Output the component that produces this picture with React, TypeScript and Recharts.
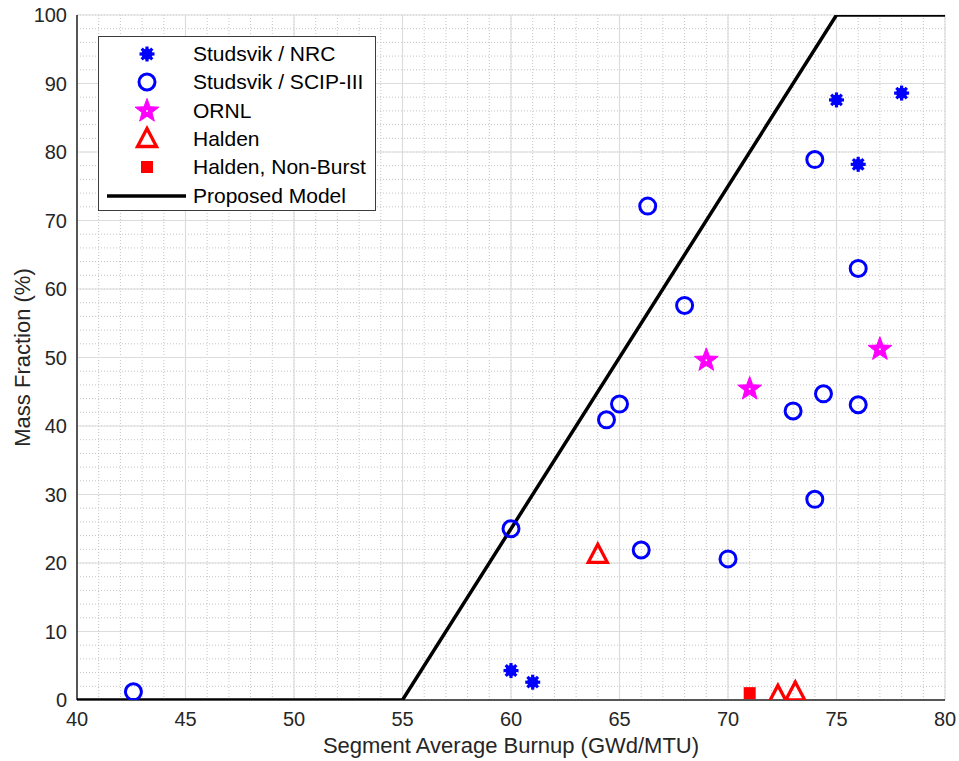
import React from 'react';
import {
  ComposedChart, Scatter, XAxis, YAxis, CartesianGrid,
} from 'recharts';

// data (burnup GWd/MTU, mass fraction %)
const studsvikNrc = [
  { x: 75, y: 87.6 }, { x: 78, y: 88.6 }, { x: 76, y: 78.2 },
  { x: 60, y: 4.3 }, { x: 61, y: 2.6 },
];
const studsvikScip = [
  { x: 42.6, y: 1.2 }, { x: 66.3, y: 72.1 }, { x: 68, y: 57.6 }, { x: 74, y: 78.9 },
  { x: 76, y: 63 }, { x: 65, y: 43.2 }, { x: 64.4, y: 40.9 }, { x: 60, y: 25 },
  { x: 66, y: 21.9 }, { x: 70, y: 20.6 }, { x: 73, y: 42.2 }, { x: 74.4, y: 44.7 },
  { x: 76, y: 43.1 }, { x: 74, y: 29.3 },
];
const ornl = [{ x: 69, y: 49.6 }, { x: 71, y: 45.4 }, { x: 77, y: 51.2 }];
const halden = [{ x: 64, y: 21.2 }, { x: 72.3, y: 0.6 }, { x: 73.1, y: 1.1 }];
const haldenNonBurst = [{ x: 71, y: 1.0 }];
const proposedModel = [{ x: 40, y: 0 }, { x: 55, y: 0 }, { x: 75, y: 100 }, { x: 80, y: 100 }];

const xTicks = [40, 45, 50, 55, 60, 65, 70, 75, 80];
const yTicks = [0, 10, 20, 30, 40, 50, 60, 70, 80, 90, 100];
const X_DOMAIN = [40, 80];
const Y_DOMAIN = [0, 100];
const xMinor = Array.from({ length: 41 }, (_, i) => 40 + i);
const yMinor = Array.from({ length: 51 }, (_, i) => i * 2);

const FONT = '"Liberation Sans", Arial, sans-serif';
const BLUE = '#0000ff';
const MAGENTA = '#ff00ff';
const RED = '#ff0000';

const Asterisk = ({ cx, cy }: any) => (
  <g stroke={BLUE} strokeWidth={3.2} fill={BLUE}>
    {[0, 45, 90, 135].map((a) => {
      const r = (a * Math.PI) / 180;
      const dx = Math.cos(r) * 7.5, dy = Math.sin(r) * 7.5;
      return <line key={a} x1={cx - dx} y1={cy - dy} x2={cx + dx} y2={cy + dy} />;
    })}
    <circle cx={cx} cy={cy} r={5.5} stroke="none" />
  </g>
);

const OpenCircle = ({ cx, cy }: any) => (
  <circle cx={cx} cy={cy} r={8} stroke={BLUE} strokeWidth={3} fill="none" />
);

const Star = ({ cx, cy }: any) => {
  const pts: string[] = [];
  for (let i = 0; i < 10; i++) {
    const rad = i % 2 === 0 ? 12.5 : 5.2;
    const a = -Math.PI / 2 + (i * Math.PI) / 5;
    pts.push(`${cx + rad * Math.cos(a)},${cy + rad * Math.sin(a)}`);
  }
  return (
    <g>
      <polygon points={pts.join(' ')} fill={MAGENTA} stroke={MAGENTA} strokeWidth={1} />
      <circle cx={cx} cy={cy} r={1} fill="#fff" />
    </g>
  );
};

const Triangle = ({ cx, cy }: any) => (
  <polygon
    points={`${cx},${cy - 10.5} ${cx - 9.5},${cy + 7.5} ${cx + 9.5},${cy + 7.5}`}
    fill="none" stroke={RED} strokeWidth={3.3} strokeLinejoin="miter"
  />
);

const Square = ({ cx, cy }: any) => (
  <rect x={cx - 6} y={cy - 6} width={12} height={12} fill={RED} />
);

const legendItems = [
  { name: 'Studsvik / NRC', Shape: Asterisk },
  { name: 'Studsvik / SCIP-III', Shape: OpenCircle },
  { name: 'ORNL', Shape: Star },
  { name: 'Halden', Shape: Triangle },
  { name: 'Halden, Non-Burst', Shape: Square },
  { name: 'Proposed Model', Shape: null },
];

const LegendBox = () => (
  <div style={{
    position: 'absolute', left: 98, top: 36,
    width: 276, height: 173, border: '1.5px solid #3c3c3c', background: '#fff',
    fontFamily: FONT, fontSize: 21, color: '#000', boxSizing: 'content-box',
  }}>
    {legendItems.map((it, i) => (
      <div key={it.name} style={{ height: 28.3, display: 'flex', alignItems: 'center', marginTop: i === 0 ? 3 : 0 }}>
        <svg width={94} height={28} style={{ flex: 'none' }}>
          {it.Shape ? <it.Shape cx={48} cy={14} /> : <line x1={8} y1={14} x2={87} y2={14} stroke="#000" strokeWidth={3.5} />}
        </svg>
        <span style={{ whiteSpace: 'nowrap' }}>{it.name}</span>
      </div>
    ))}
  </div>
);

// minor grid positions from the plot offset and the axis domains
const minorX = ({ offset }: any) =>
  xMinor.map((v) => offset.left + ((v - X_DOMAIN[0]) / (X_DOMAIN[1] - X_DOMAIN[0])) * offset.width);
const minorY = ({ offset }: any) =>
  yMinor.map((v) => offset.top + (1 - (v - Y_DOMAIN[0]) / (Y_DOMAIN[1] - Y_DOMAIN[0])) * offset.height);

const tickStyle = { fontSize: 20, fill: '#262626', fontFamily: FONT };

export default function App() {
  return (
    <div style={{ position: 'absolute', left: 0, top: 0, width: 959, height: 761, background: '#fff' }}>
      <ComposedChart width={959} height={761} margin={{ top: 15, right: 14, bottom: 1, left: 19 }}>
        <CartesianGrid
          stroke="#c4c4c4" strokeDasharray="1 2"
          verticalCoordinatesGenerator={minorX}
          horizontalCoordinatesGenerator={minorY}
        />
        <CartesianGrid stroke="#dcdcdc" strokeWidth={1.2} />
        <XAxis
          type="number" dataKey="x" domain={X_DOMAIN} ticks={xTicks} height={60} allowDataOverflow
          tick={tickStyle} tickLine={false} tickMargin={6}
          axisLine={{ stroke: '#262626', strokeWidth: 1.5 }}
          label={{ value: 'Segment Average Burnup (GWd/MTU)', position: 'insideBottom', offset: 7, style: { fontSize: 22, fill: '#262626', fontFamily: FONT } }}
        />
        <YAxis
          type="number" dataKey="y" domain={Y_DOMAIN} ticks={yTicks} width={58} allowDataOverflow
          tick={tickStyle} tickLine={false} tickMargin={4}
          axisLine={{ stroke: '#262626', strokeWidth: 1.5 }}
          label={{ value: 'Mass Fraction (%)', angle: -90, position: 'insideLeft', offset: 3, style: { fontSize: 22, fill: '#262626', fontFamily: FONT, textAnchor: 'middle' } }}
        />
        <Scatter name="Proposed Model" data={proposedModel} line={{ stroke: '#000', strokeWidth: 3.5 }} lineType="joint" shape={() => null} isAnimationActive={false} />
        <Scatter name="Studsvik / NRC" data={studsvikNrc} shape={Asterisk} isAnimationActive={false} />
        <Scatter name="Studsvik / SCIP-III" data={studsvikScip} shape={OpenCircle} isAnimationActive={false} />
        <Scatter name="ORNL" data={ornl} shape={Star} isAnimationActive={false} />
        <Scatter name="Halden" data={halden} shape={Triangle} isAnimationActive={false} />
        <Scatter name="Halden, Non-Burst" data={haldenNonBurst} shape={Square} isAnimationActive={false} />
      </ComposedChart>
      <LegendBox />
    </div>
  );
}
